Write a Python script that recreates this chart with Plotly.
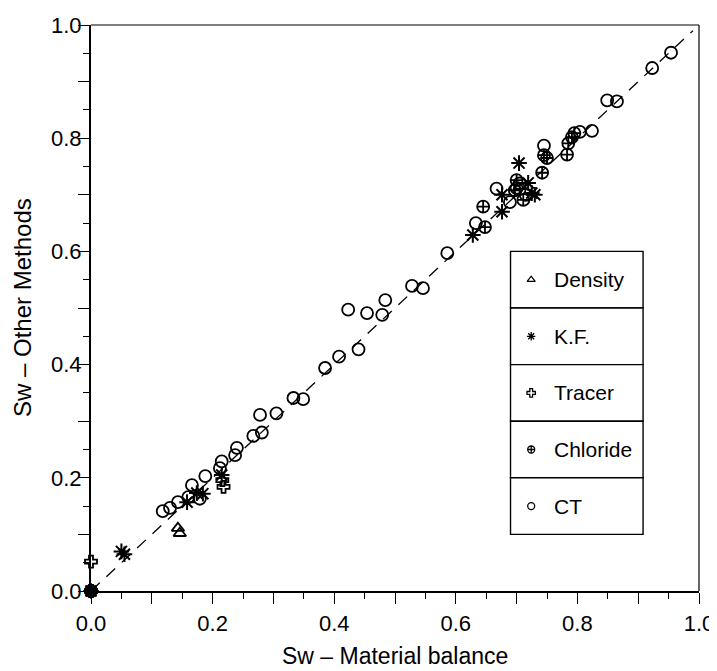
import plotly.graph_objects as go

# ---- data ----
ct_x = [0.954, 0.923, 0.849, 0.865, 0.824, 0.804, 0.745, 0.667, 0.689, 0.633,
        0.586, 0.528, 0.546, 0.484, 0.454, 0.479, 0.423, 0.440, 0.408, 0.385,
        0.333, 0.349, 0.305, 0.278, 0.281, 0.267, 0.240, 0.237, 0.215, 0.212,
        0.188, 0.166, 0.160, 0.179, 0.143, 0.130, 0.118, 0.705, 0.715, 0.700]
ct_y = [0.951, 0.924, 0.867, 0.865, 0.813, 0.811, 0.787, 0.711, 0.687, 0.650,
        0.597, 0.539, 0.535, 0.514, 0.491, 0.488, 0.497, 0.427, 0.414, 0.394,
        0.341, 0.339, 0.314, 0.311, 0.280, 0.274, 0.253, 0.240, 0.229, 0.217,
        0.203, 0.187, 0.166, 0.163, 0.157, 0.147, 0.141, 0.720, 0.700, 0.712]

kf_x = [0.0, 0.050, 0.055, 0.158, 0.174, 0.184, 0.215, 0.628, 0.676, 0.676,
        0.704, 0.719, 0.725, 0.730]
kf_y = [0.0, 0.070, 0.065, 0.157, 0.173, 0.172, 0.205, 0.629, 0.670, 0.700,
        0.756, 0.721, 0.703, 0.700]

tracer_x = [0.0, 0.0, 0.216, 0.218]
tracer_y = [0.0, 0.052, 0.196, 0.184]

chl_x = [0.0, 0.645, 0.648, 0.697, 0.700, 0.711, 0.742, 0.745, 0.750, 0.783,
         0.785, 0.791, 0.795, 0.705]
chl_y = [0.0, 0.679, 0.643, 0.708, 0.726, 0.691, 0.739, 0.770, 0.765, 0.771,
         0.791, 0.802, 0.809, 0.710]

dens_x = [0.143, 0.146]
dens_y = [0.111, 0.102]

diag = [0.0, 0.99]

legend_names = ["Density", "K.F.", "Tracer", "Chloride", "CT"]
legend_symbols = ["triangle-up-open", "asterisk-open", "cross-open",
                  "circle-cross-open", "circle-open"]
tick_vals = [0.0, 0.1, 0.2, 0.3, 0.4, 0.5, 0.6, 0.7, 0.8, 0.9, 1.0]
tick_text = ["0.0", "", "0.2", "", "0.4", "", "0.6", "", "0.8", "", "1.0"]

FONT = "Liberation Sans, Arial, sans-serif"
BLACK = "#000000"

fig = go.Figure()

# diagonal reference line
fig.add_trace(go.Scatter(x=diag, y=diag, mode="lines",
                         line=dict(color=BLACK, width=1.3, dash="12px,9px"),
                         showlegend=False, hoverinfo="skip"))

def add_pts(x, y, symbol, size, lw=1.8):
    fig.add_trace(go.Scatter(
        x=x, y=y, mode="markers", cliponaxis=False, showlegend=False,
        marker=dict(symbol=symbol, size=size, color=BLACK,
                    line=dict(color=BLACK, width=lw))))

add_pts(ct_x, ct_y, "circle-open", 12)
add_pts(chl_x, chl_y, "circle-cross-open", 12)
add_pts(kf_x, kf_y, "asterisk-open", 13, 2.0)
add_pts(tracer_x, tracer_y, "cross-open", 10)
add_pts(dens_x, dens_y, "triangle-up-open", 11)

# ---- boxed legend drawn inside the plot ----
box_x0, box_x1 = 0.69, 0.908
box_top, box_h = 0.60, 0.10
shapes = []
for i, name in enumerate(legend_names):
    y1 = box_top - i * box_h
    y0 = y1 - box_h
    shapes.append(dict(type="rect", xref="x", yref="y", x0=box_x0, x1=box_x1,
                       y0=y0, y1=y1, line=dict(color=BLACK, width=1.4),
                       fillcolor="white", layer="below"))
    fig.add_trace(go.Scatter(
        x=[0.724], y=[(y0 + y1) / 2], mode="markers", showlegend=False,
        hoverinfo="skip",
        marker=dict(symbol=legend_symbols[i], size=7, color=BLACK,
                    line=dict(color=BLACK, width=1.3))))
    fig.add_annotation(x=0.758, y=(y0 + y1) / 2, xref="x", yref="y",
                       text=name, showarrow=False, xanchor="left",
                       yanchor="middle",
                       font=dict(family=FONT, size=21, color=BLACK))

# axis titles as annotations
fig.add_annotation(x=0.5, y=0, xref="paper", yref="paper",
                   text="Sw – Material balance", showarrow=False,
                   xanchor="center", yanchor="top", yshift=-50,
                   font=dict(family=FONT, size=23, color=BLACK))
fig.add_annotation(x=0, y=0.5, xref="paper", yref="paper",
                   text="Sw – Other Methods", showarrow=False,
                   textangle=-90, xanchor="center", yanchor="middle",
                   xshift=-69,
                   font=dict(family=FONT, size=24, color=BLACK))

# top and right frame lines (thinner)
shapes.append(dict(type="line", xref="paper", yref="paper", x0=0, x1=1,
                   y0=1, y1=1, line=dict(color=BLACK, width=1.2)))
shapes.append(dict(type="line", xref="paper", yref="paper", x0=1, x1=1,
                   y0=0, y1=1, line=dict(color=BLACK, width=1.2)))

axis_common = dict(
    range=[0, 1], tickmode="array", tickvals=tick_vals, ticktext=tick_text,
    ticks="outside", ticklen=11, tickwidth=1.3, tickcolor=BLACK,
    showline=True, linecolor=BLACK, linewidth=2, showgrid=False,
    zeroline=False,
    minor=dict(dtick=0.05, tick0=0, ticks="outside", ticklen=6,
               tickwidth=1.2, tickcolor=BLACK, showgrid=False),
    tickfont=dict(family=FONT, size=22, color=BLACK),
)

fig.update_layout(
    width=709, height=663,
    margin=dict(l=83, r=18, t=17, b=80, autoexpand=False),
    paper_bgcolor="white", plot_bgcolor="white",
    shapes=shapes,
    xaxis=dict(**axis_common, ticklabelstandoff=1),
    yaxis=dict(**axis_common, ticklabelstandoff=-8),
)

fig.write_html("out.html")
